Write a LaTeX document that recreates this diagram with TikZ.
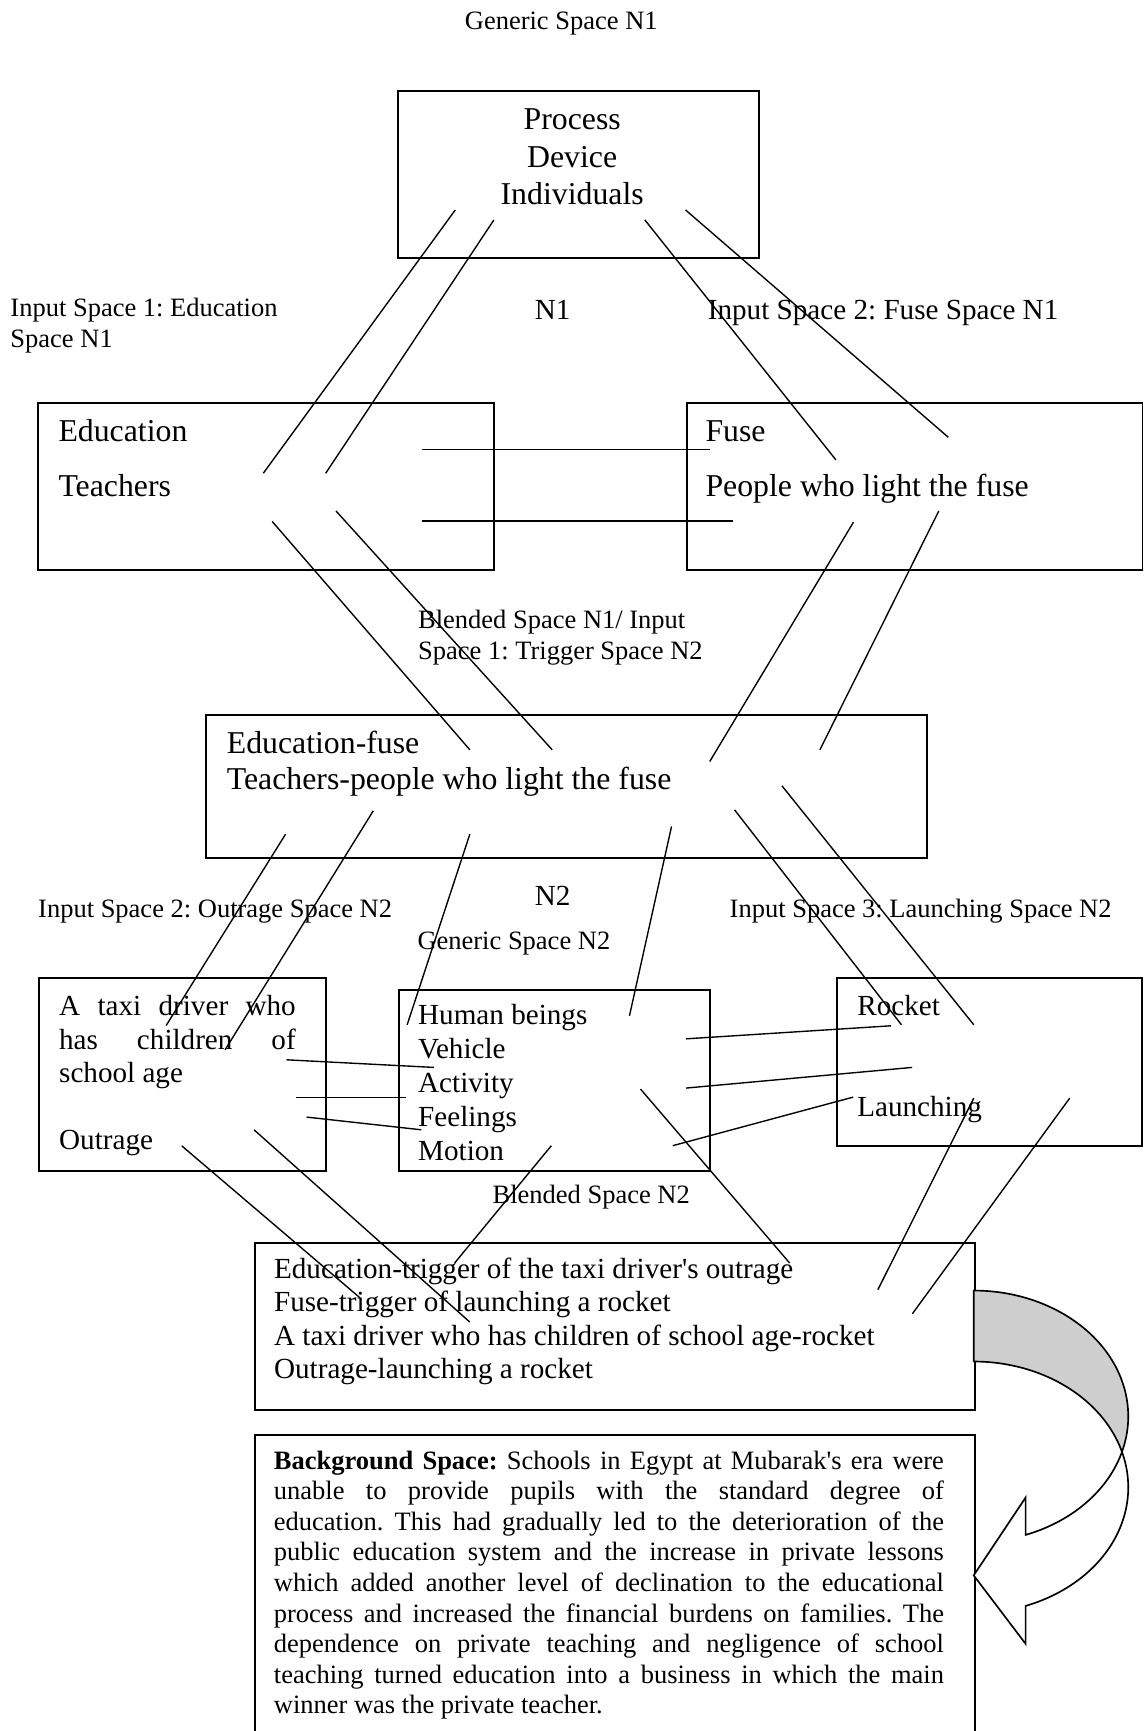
\documentclass[tikz,border=0pt]{standalone}
\usepackage{fontspec}
\setmainfont{Liberation Serif}
\definecolor{arrowgrey}{RGB}{206,206,206}
\begin{document}
\frenchspacing
\begin{tikzpicture}[x=1pt,y=-1pt,
  box/.style={draw, line width=1.8pt, inner sep=0pt, anchor=north west},
  link/.style={line width=1.25pt},
  big/.style={font=\fontsize{28.8}{33}\selectfont, inner sep=0pt, anchor=base west},
  mid/.style={font=\fontsize{26.4}{30}\selectfont, inner sep=0pt, anchor=base west},
  small/.style={font=\fontsize{24}{27.5}\selectfont, inner sep=0pt, anchor=base west},
  bigc/.style={big, anchor=base},
]
\useasboundingbox (0,0) rectangle (1036,1568);

% ---------------- boxes ----------------
\node[box, minimum width=327pt,   minimum height=151pt]   (gen1)   at (359.8,81.5)   {};
\node[box, minimum width=413pt,   minimum height=151.5pt] (edu)    at (33.8,363.8)   {};
\node[box, minimum width=413pt,   minimum height=151.5pt] (fuse)   at (621,363.8)    {};
\node[box, minimum width=653.5pt, minimum height=129.8pt] (blend1) at (185.7,646.9)  {};
\node[box, minimum width=260.4pt, minimum height=174.5pt] (taxi)   at (34.4,885.1)   {};
\node[box, minimum width=281.9pt, minimum height=163.9pt] (gen2)   at (360.7,895.7)  {};
\node[box, minimum width=276.2pt, minimum height=152.4pt] (launch) at (757.7,885.1)  {};
\node[box, minimum width=651.7pt, minimum height=150.9pt] (result) at (230.2,1125.1) {};
\node[box, minimum width=651.6pt, minimum height=300pt]   (backg)  at (230.4,1298.7) {};

% ---------------- curved arrow ----------------
\filldraw[fill=arrowgrey, line width=1.5pt, line join=round]
  plot[domain=-90:16.38, samples=60, variable=\t] ({882+140*cos(\t)},{1283+114*sin(\t)})
  -- plot[domain=-16.38:-90, samples=60, variable=\t] ({882+140*cos(\t)},{1347.3+114*sin(\t)})
  -- cycle;
\filldraw[fill=white, line width=1.5pt, line join=miter]
  plot[domain=16.38:70.38, samples=40, variable=\t] ({882+140*cos(\t)},{1283+114*sin(\t)})
  -- (929,1356.5) -- (882,1427) -- (929,1489)
  -- plot[domain=70.38:-16.38, samples=60, variable=\t] ({882+140*cos(\t)},{1347.3+114*sin(\t)})
  -- cycle;

% ---------------- labels ----------------
\node[small] (gen1lab)  at (420.9,26.6)  {Generic Space N1};
\node[small] (in1lab)   at (9.3,286.8)   {Input Space 1: Education};
\node[small] (in1labb)  at (9.3,314.5)   {Space N1};
\node[mid]   (n1)       at (484.3,289.2) {N1};
\node[mid]   (in2lab)   at (641,289.2)   {Input Space 2: Fuse Space N1};
\node[small] (bl1lab)   at (378.6,569)   {Blended Space N1/ Input};
\node[small] (bl1labb)  at (378.6,597.1) {Space 1: Trigger Space N2};
\node[mid]   (n2)       at (484.3,820.5) {N2};
\node[small] (outlab)   at (34.4,830.8)  {Input Space 2: Outrage Space N2};
\node[small] (lchlab)   at (660.8,830.8) {Input Space 3: Launching Space N2};
\node[small] (gen2lab)  at (378,859.7)   {Generic Space N2};
\node[small] (bl2lab)   at (446,1089.8)  {Blended Space N2};

% ---------------- box contents ----------------
\node[bigc] (g1a) at (518.3,117.7) {Process};
\node[bigc] (g1b) at (518.3,151.5) {Device};
\node[bigc] (g1c) at (518.3,185)   {Individuals};

\node[big] (e1) at (52.8,400)   {Education};
\node[big] (e2) at (52.8,449.8) {Teachers};

\node[big] (f1) at (638.9,400)   {Fuse};
\node[big] (f2) at (638.9,449.8) {People who light the fuse};

\node[big] (b1) at (205.3,682.2) {Education-fuse};
\node[big] (b2) at (205.3,715.4) {Teachers-people who light the fuse};

\node[mid] (t1) at (53.4,919.8)  {\makebox[214.3pt][s]{A taxi driver who}};
\node[mid] (t2) at (53.4,950.3)  {\makebox[214.3pt][s]{has children of}};
\node[mid] (t3) at (53.4,980.8)  {school age};
\node[mid] (t4) at (53.4,1041.5) {Outrage};

\node[mid] (m1) at (378.6,928.3)  {Human beings};
\node[mid] (m2) at (378.6,959)    {Vehicle};
\node[mid] (m3) at (378.6,989.7)  {Activity};
\node[mid] (m4) at (378.6,1020.4) {Feelings};
\node[mid] (m5) at (378.6,1051)   {Motion};

\node[mid] (r1) at (776.4,919.8)  {Rocket};
\node[mid] (r2) at (776.4,1011.3) {Launching};

\node[mid] (s1) at (248.1,1157.7) {Education-trigger of the taxi driver\textquotesingle s outrage};
\node[mid] (s2) at (248.1,1188.3) {Fuse-trigger of launching a rocket};
\node[mid] (s3) at (248.1,1218.7) {A taxi driver who has children of school age-rocket};
\node[mid] (s4) at (248.1,1249)   {Outrage-launching a rocket};

\node[small] (k1) at (247.9,1331)    {\makebox[607pt][s]{\textbf{Background Space:} Schools in Egypt at Mubarak\textquotesingle s era were}};
\node[small] (k2) at (247.9,1358.65) {\makebox[607pt][s]{unable to provide pupils with the standard degree of}};
\node[small] (k3) at (247.9,1386.3)  {\makebox[607pt][s]{education. This had gradually led to the deterioration of the}};
\node[small] (k4) at (247.9,1413.95) {\makebox[607pt][s]{public education system and the increase in private lessons}};
\node[small] (k5) at (247.9,1441.6)  {\makebox[607pt][s]{which added another level of declination to the educational}};
\node[small] (k6) at (247.9,1469.25) {\makebox[607pt][s]{process and increased the financial burdens on families. The}};
\node[small] (k7) at (247.9,1496.9)  {\makebox[607pt][s]{dependence on private teaching and negligence of school}};
\node[small] (k8) at (247.9,1524.55) {\makebox[607pt][s]{teaching turned education into a business in which the main}};
\node[small] (k9) at (247.9,1552.2)  {winner was the private teacher.};

% ---------------- connector end points ----------------
\coordinate (l1a) at (412.4,190.2);  \coordinate (l1b) at (238.5,428.7);
\coordinate (l2a) at (447.4,199.2);  \coordinate (l2b) at (295,428.7);
\coordinate (l3a) at (584.1,199.2);  \coordinate (l3b) at (757.2,416.6);
\coordinate (l4a) at (621,190.2);    \coordinate (l4b) at (859,396.1);
\coordinate (ha1) at (381.9,406.9);  \coordinate (ha2) at (642.9,406.9);
\coordinate (hb1) at (381.9,471.8);  \coordinate (hb2) at (664.1,471.8);
\coordinate (l5a) at (246.6,472.4);  \coordinate (l5b) at (425.6,679.2);
\coordinate (l6a) at (304.3,462.8);  \coordinate (l6b) at (500.2,679.2);
\coordinate (l7a) at (773.1,473);    \coordinate (l7b) at (642.9,689.8);
\coordinate (l8a) at (850.4,462.8);  \coordinate (l8b) at (742.7,679.2);
\coordinate (l9a) at (258.7,755.6);  \coordinate (l9b) at (150.5,928.9);
\coordinate (l10a) at (338.1,734.5); \coordinate (l10b) at (203.9,950.9);
\coordinate (l11a) at (425.6,755.6); \coordinate (l11b) at (368.8,928.3);
\coordinate (l12a) at (608.3,748.6); \coordinate (l12b) at (570.2,920.1);
\coordinate (l13a) at (665.4,733.6); \coordinate (l13b) at (816.6,928.3);
\coordinate (l14a) at (708.3,711.8); \coordinate (l14b) at (882.1,928.3);
\coordinate (m1a) at (259.6,960);    \coordinate (m1b) at (393.1,966.9);
\coordinate (m2a) at (268.5,994.1);  \coordinate (m2b) at (368,994.1);
\coordinate (m3a) at (277.8,1011.9); \coordinate (m3b) at (381.7,1023.4);
\coordinate (q1a) at (621.5,941);    \coordinate (q1b) at (806.9,929.2);
\coordinate (q2a) at (621.5,985.6);  \coordinate (q2b) at (826.2,966.9);
\coordinate (q3a) at (609.4,1037.8); \coordinate (q3b) at (772.8,993.8);
\coordinate (l15a) at (164.6,1037.9); \coordinate (l15b) at (326.3,1175.8);
\coordinate (l16a) at (230.1,1023.4); \coordinate (l16b) at (425.5,1197.5);
\coordinate (l17a) at (499.4,1037.8); \coordinate (l17b) at (411.8,1144.1);
\coordinate (l18a) at (580.2,986.5);  \coordinate (l18b) at (715.3,1144.1);
\coordinate (l19a) at (882.1,994.7);  \coordinate (l19b) at (795.2,1168.3);
\coordinate (l20a) at (969,994.7);    \coordinate (l20b) at (826.5,1190);

% ---------------- connectors ----------------
\foreach \a/\b in {l1a/l1b, l2a/l2b, l3a/l3b, l4a/l4b, ha1/ha2, hb1/hb2,
  l5a/l5b, l6a/l6b, l7a/l7b, l8a/l8b, l9a/l9b, l10a/l10b, l11a/l11b,
  l12a/l12b, l13a/l13b, l14a/l14b, m1a/m1b, m2a/m2b, m3a/m3b,
  q1a/q1b, q2a/q2b, q3a/q3b, l15a/l15b, l16a/l16b, l17a/l17b,
  l18a/l18b, l19a/l19b, l20a/l20b}
  \draw[link] (\a) -- (\b);
\end{tikzpicture}
\end{document}
